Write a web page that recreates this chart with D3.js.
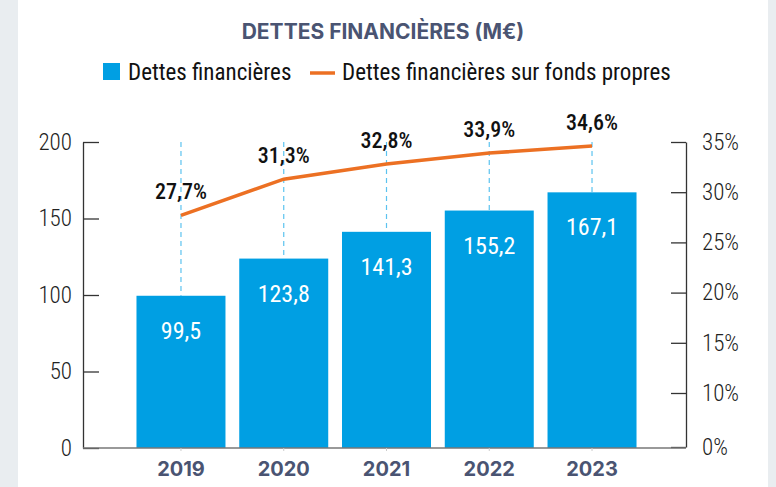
<!DOCTYPE html>
<html>
<head>
<meta charset="utf-8">
<script src="https://cdn.jsdelivr.net/npm/d3@7"></script>
<style>
  body { margin: 0; background: #e9edf0; }
  svg { display: block; }
  .narrow { font-family: "Roboto Condensed", "DejaVu Sans Condensed", sans-serif; }
</style>
</head>
<body>
<div id="content"></div>
<script>
// Data
var years = ["2019", "2020", "2021", "2022", "2023"];
var dettes = [99.5, 123.8, 141.3, 155.2, 167.1];
var ratio = [27.7, 31.3, 32.8, 33.9, 34.6];
var leftTicks = [0, 50, 100, 150, 200];
var rightTicks = [0, 10, 15, 20, 25, 30, 35];

let width = 776;
let height = 487;
var blue = "#009fe3";
var orange = "#ec7023";
var dashBlue = "#5cc3ef";
var titleColor = "#4a5472";

var fmt = function(v) { return String(v).replace(".", ","); };

var svg = d3.select("#content").append("svg")
    .attr("width", width)
    .attr("height", height);

// white panel
svg.append("rect")
    .attr("x", 18).attr("y", 0)
    .attr("width", 750).attr("height", height)
    .attr("fill", "#fff");

var xScale = d3.scaleBand()
    .domain(years)
    .range([129.6, 643.4])
    .paddingInner(0.134)
    .paddingOuter(0.067);

var yScale = d3.scaleLinear()
    .domain([0, 200])
    .range([448, 142]);

// the right axis is not linear in the original (0 -> 10 is squeezed)
var yRight = d3.scaleLinear()
    .domain([0, 10, 35])
    .range([447, 393, 142]);

// title
svg.append("text")
    .attr("x", 383)
    .attr("y", 39)
    .attr("text-anchor", "middle")
    .style("font-family", "Inter, Roboto, sans-serif")
    .style("font-weight", "700")
    .style("font-size", "21px")
    .style("fill", titleColor)
    .text("DETTES FINANCIÈRES (M€)");

// legend
svg.append("rect")
    .attr("x", 103).attr("y", 63)
    .attr("width", 17).attr("height", 17)
    .attr("fill", blue);
svg.append("text")
    .attr("class", "narrow")
    .attr("x", 128).attr("y", 80)
    .style("font-size", "23px")
    .style("fill", "#111")
    .text("Dettes financières");
svg.append("line")
    .attr("x1", 310).attr("x2", 335)
    .attr("y1", 73).attr("y2", 73)
    .attr("stroke", orange)
    .attr("stroke-width", 3.5);
svg.append("text")
    .attr("class", "narrow")
    .attr("x", 342).attr("y", 80)
    .style("font-size", "23px")
    .style("fill", "#111")
    .text("Dettes financières sur fonds propres");

var data = years.map(function(y, i) {
    return {year: y, value: dettes[i], ratio: ratio[i]};
});

// dashed guides
svg.selectAll(".guide")
    .data(data)
    .enter().append("line")
    .attr("class", "guide")
    .attr("x1", function(d) { return xScale(d.year) + xScale.bandwidth() / 2; })
    .attr("x2", function(d) { return xScale(d.year) + xScale.bandwidth() / 2; })
    .attr("y1", yScale(200))
    .attr("y2", function(d) { return yScale(d.value); })
    .attr("stroke", dashBlue)
    .attr("stroke-width", 1.2)
    .attr("stroke-dasharray", "5,4");

// bars
svg.selectAll(".bar")
    .data(data)
    .enter().append("rect")
    .attr("class", "bar")
    .attr("x", function(d) { return xScale(d.year); })
    .attr("y", function(d) { return yScale(d.value); })
    .attr("width", xScale.bandwidth())
    .attr("height", function(d) { return yScale(0) - yScale(d.value); })
    .attr("fill", blue);

// bar values
svg.selectAll(".barlabel")
    .data(data)
    .enter().append("text")
    .attr("class", "narrow")
    .attr("x", function(d) { return xScale(d.year) + xScale.bandwidth() / 2; })
    .attr("y", function(d) { return yScale(d.value) + 43; })
    .attr("text-anchor", "middle")
    .style("font-size", "24px")
    .style("fill", "#fff")
    .text(function(d) { return fmt(d.value); });

// axes
var leftAxis = svg.append("g")
    .attr("transform", "translate(83,0)")
    .call(d3.axisLeft(yScale).tickValues(leftTicks).tickSize(-16).tickSizeOuter(0).tickPadding(11));

var rightAxis = svg.append("g")
    .attr("transform", "translate(686,0)")
    .call(d3.axisRight(yRight).tickValues(rightTicks).tickSize(-15).tickSizeOuter(0).tickPadding(16)
        .tickFormat(function(d) { return d + "%"; }));

[leftAxis, rightAxis].forEach(function(g) {
    g.selectAll("path, line").attr("stroke", "#333").attr("stroke-width", 1.3);
    g.selectAll("text")
        .attr("class", "narrow")
        .style("font-size", "23px")
        .style("font-weight", "300")
        .style("fill", "#222");
});

// baseline
svg.append("line")
    .attr("x1", 83).attr("x2", 686)
    .attr("y1", yScale(0)).attr("y2", yScale(0))
    .attr("stroke", "#777")
    .attr("stroke-width", 1.5);

var bottomAxis = svg.append("g")
    .attr("transform", "translate(0," + yScale(0) + ")")
    .call(d3.axisBottom(xScale).tickSize(3).tickPadding(11));
bottomAxis.select(".domain").remove();
bottomAxis.selectAll("line").attr("stroke", "#ccc");
bottomAxis.selectAll("text")
    .style("font-family", "Inter, Roboto, sans-serif")
    .style("font-weight", "700")
    .style("font-size", "20px")
    .style("fill", titleColor);

// ratio line
var line = d3.line()
    .x(function(d) { return xScale(d.year) + xScale.bandwidth() / 2; })
    .y(function(d) { return yRight(d.ratio); });

svg.append("path")
    .datum(data)
    .attr("d", line)
    .attr("fill", "none")
    .attr("stroke", orange)
    .attr("stroke-width", 3.5);

svg.selectAll(".ratiolabel")
    .data(data)
    .enter().append("text")
    .attr("class", "narrow")
    .attr("x", function(d) { return xScale(d.year) + xScale.bandwidth() / 2; })
    .attr("y", function(d) { return yRight(d.ratio) - 16; })
    .attr("text-anchor", "middle")
    .style("font-size", "22px")
    .style("font-weight", "500")
    .style("fill", "#111")
    .text(function(d) { return fmt(d.ratio) + "%"; });
</script>
</body>
</html>
